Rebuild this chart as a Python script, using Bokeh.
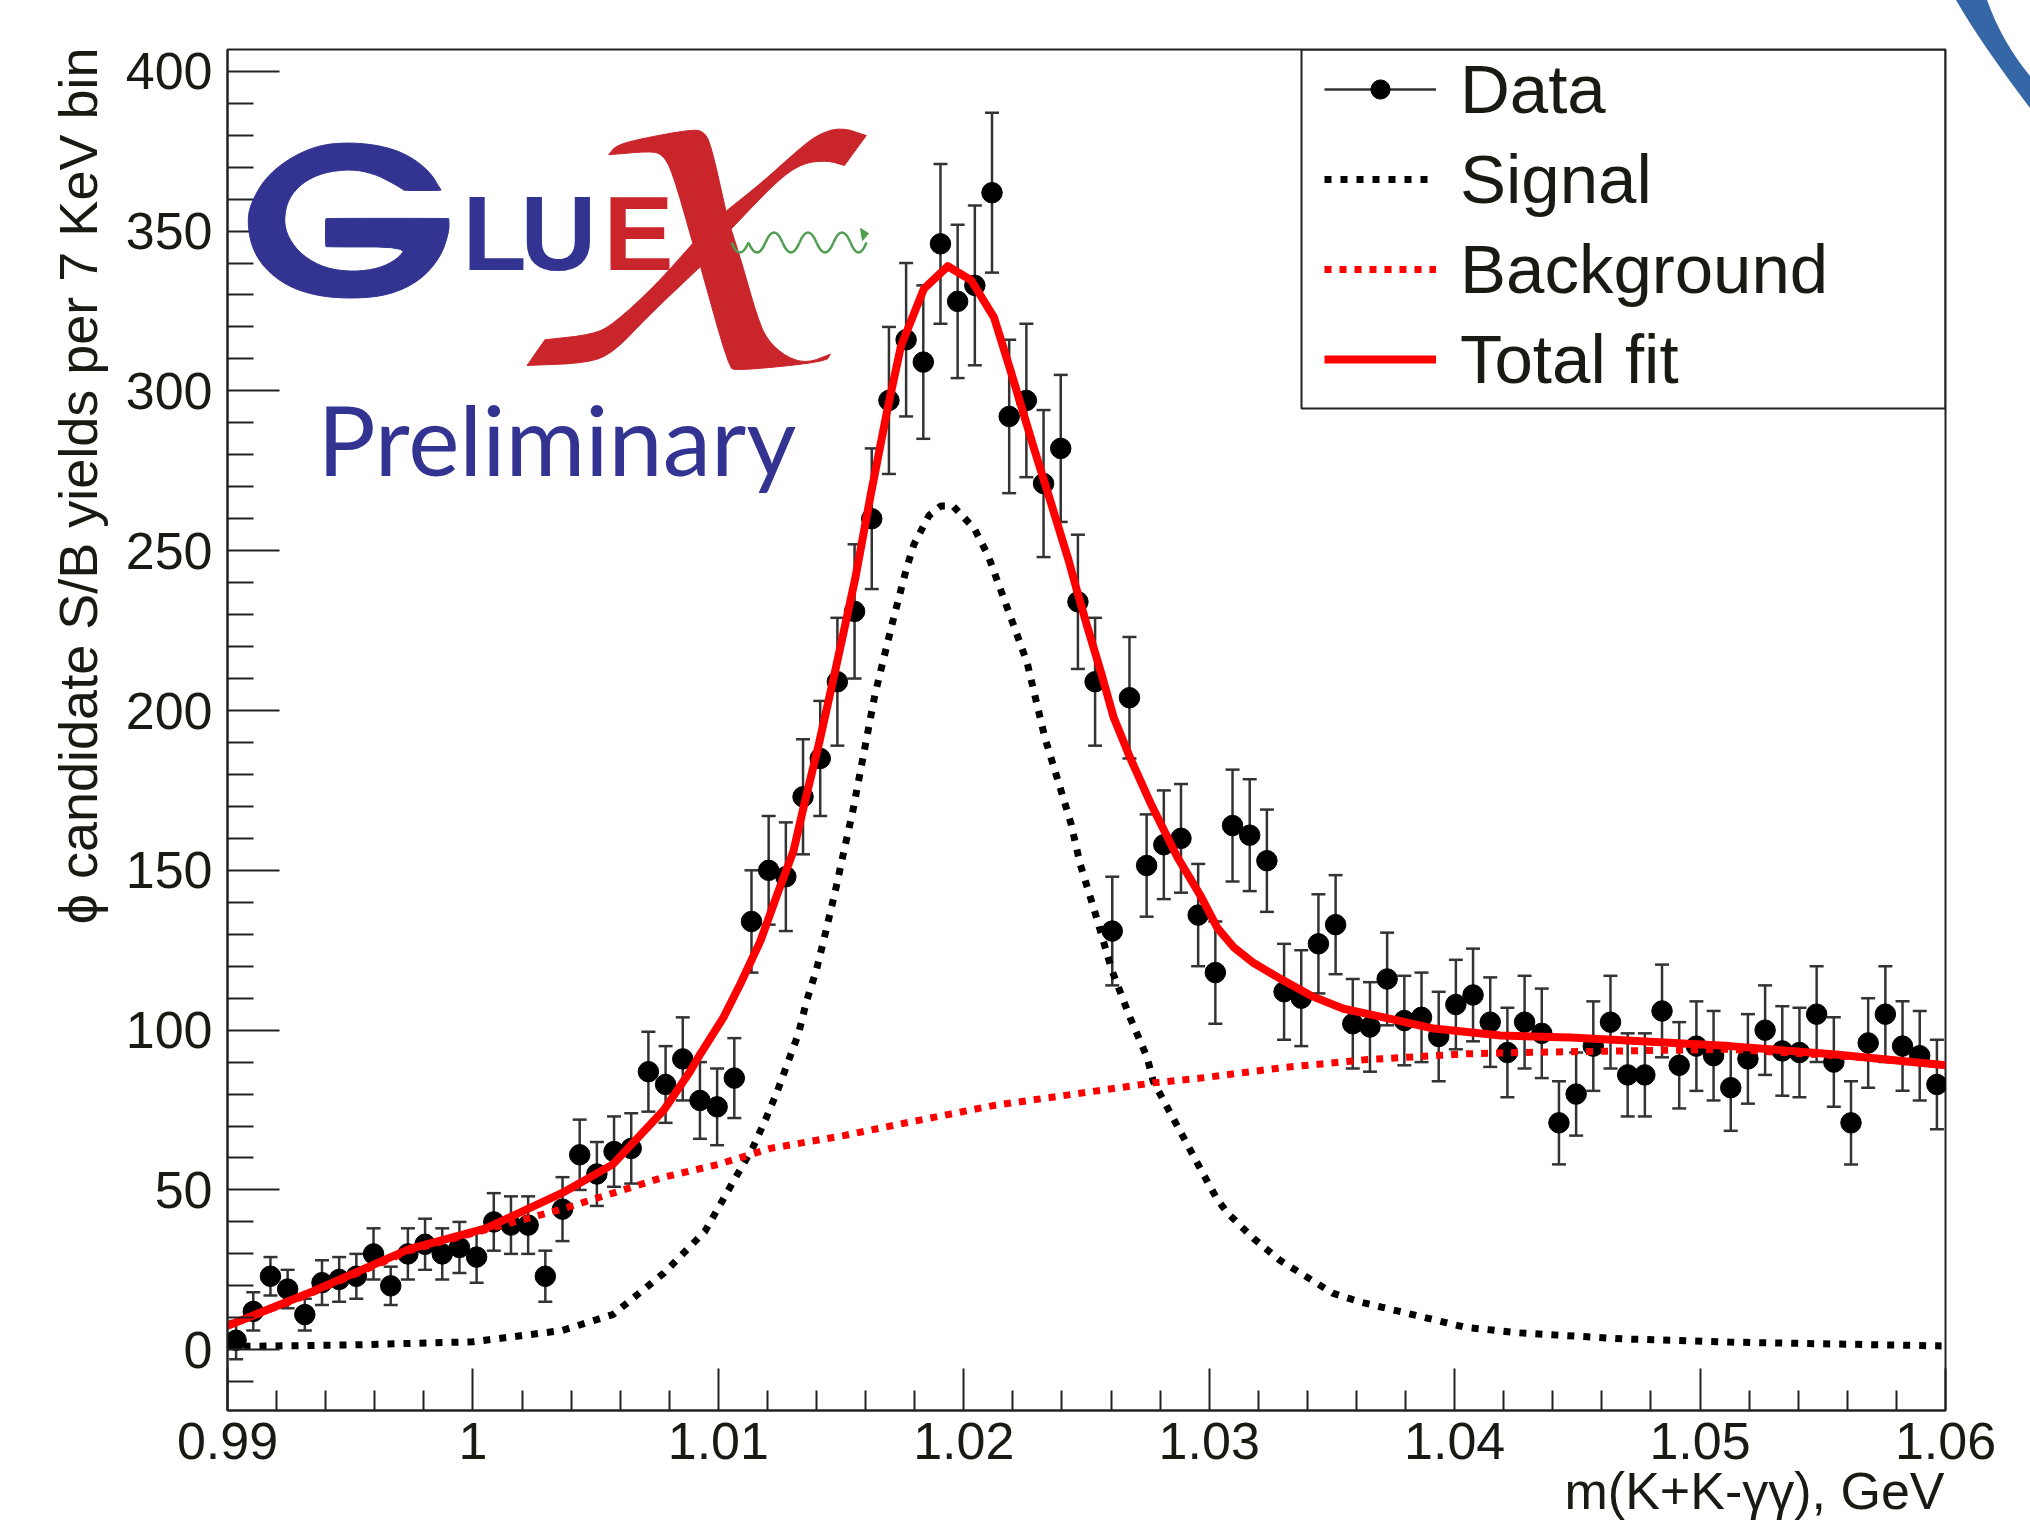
from bokeh.plotting import figure
from bokeh.embed import file_html
from bokeh.resources import INLINE
from bokeh.core.properties import value
from bokeh.layouts import column
from bokeh.models import Range1d, FixedTicker, Legend, LegendItem, Label, Div

# ---------- data ----------
mass = [0.99035,0.99105,0.99175,0.99245,0.99315,0.99385,0.99455,0.99525,0.99595,0.99665,
        0.99735,0.99805,0.99875,0.99945,1.00015,1.00085,1.00155,1.00225,1.00295,1.00365,
        1.00435,1.00505,1.00575,1.00645,1.00715,1.00785,1.00855,1.00925,1.00995,1.01065,
        1.01135,1.01205,1.01275,1.01345,1.01415,1.01485,1.01555,1.01625,1.01695,1.01765,
        1.01835,1.01905,1.01975,1.02045,1.02115,1.02185,1.02255,1.02325,1.02395,1.02465,
        1.02535,1.02605,1.02675,1.02745,1.02815,1.02885,1.02955,1.03025,1.03095,1.03165,
        1.03235,1.03305,1.03375,1.03445,1.03515,1.03585,1.03655,1.03725,1.03795,1.03865,
        1.03935,1.04005,1.04075,1.04145,1.04215,1.04285,1.04355,1.04425,1.04495,1.04565,
        1.04635,1.04705,1.04775,1.04845,1.04915,1.04985,1.05055,1.05125,1.05195,1.05265,
        1.05335,1.05405,1.05475,1.05545,1.05615,1.05685,1.05755,1.05825,1.05895,1.05965]
yields = [3,12,23,19,11,21,22,23,30,20,30,33,30,32,29,40,39,39,23,44,
          61,55,62,63,87,83,91,78,76,85,134,150,148,173,185,209,231,260,297,316,
          309,346,328,333,362,292,297,271,282,234,209,131,204,151.5,158,160,136,118,164,161,
          153,112,110,127,133,102,101,116,103,104,98,108,111,102.5,93,102.5,99,71,80,95,
          102.5,86,86,106,89,95,92,82,91,100,93.5,93,105,90,71,96,105,95,92,83]
errors = [6,6,6,6,5,7,7,7,8,6,8,8,8,8,8,9,9,9,8,10,
          11,10,11,11,12.5,12,13,12,12,12.5,16,17,17,18,18,20,21,22,23,24,
          24,25,24,25,25,24,24,23,23,21,20,17,19,16,17,17,16,16,17.5,17.5,
          16,15,15,15.5,15.5,14,14,14.5,14,14,14,14,14.5,14,14,14.5,14,13,13,14,
          14.5,13,13,14.5,13.5,14,14,13.5,14,14,14,14,15,14,13,14,15,14,14,14]

total_x = [0.99,0.99324,0.9974,1.00053,1.00362,1.0057,1.00778,1.00884,1.00927,1.01021,1.0109,1.01172,1.01241,
           1.01306,1.01348,1.01411,1.01475,1.01557,1.01622,1.01691,1.01744,1.01838,1.01935,1.0203,1.02123,
           1.02192,1.02286,1.02355,1.02427,1.02463,1.02504,1.02557,1.0261,1.02679,1.02761,1.02871,1.02965,
           1.03033,1.03099,1.03181,1.03303,1.03413,1.03547,1.03711,1.03915,1.04187,1.04473,1.0512,1.05553,1.06]
total_y = [7.5,17.5,31.5,38,49,58,75,87,92.6,104,114.5,128,142.7,156,170,190,212,241,268,295,314,332,339,334.6,323,
           306,282,265,247,237,226,212.5,198,185,171,154,142,132,126,121,115.5,110.8,106.7,104,100.5,98.3,97.7,95,92.4,89]
signal_x = [0.99,0.995,1.0,1.00362,1.0057,1.00778,1.00945,1.01071,1.01139,1.01192,1.01241,1.01286,1.01327,1.01359,
            1.014,1.01432,1.01477,1.01506,1.01549,1.01601,1.01638,1.01711,1.01765,1.01797,1.01858,1.01907,1.01956,
            1.02042,1.02099,1.02192,1.02258,1.0233,1.02384,1.02437,1.02474,1.0253,1.02604,1.02677,1.02747,1.02772,
            1.0287,1.02965,1.0303,1.03073,1.03181,1.03288,1.03397,1.03503,1.03613,1.03829,1.04045,1.04261,1.04689,
            1.05119,1.05984]
signal_y = [1,1.5,2.5,6,11,24,37,54,63,72,81,90.5,99,109,119,129,143.7,154,169,190,205,228,244,252,261,264,264,
            257,248.5,229,215,191.6,178,164.6,152,138,118.6,104,91.5,84,70,56.5,47.4,42.9,34.8,28,22.8,17.7,15,11,7,
            5.3,3.4,2.4,1.2]
bkg_x = [0.99,0.9932,0.9974,1.0005,1.00362,1.00778,1.01,1.01212,1.0151,1.01811,1.0212,1.02772,1.02965,1.03303,
         1.03645,1.04052,1.04262,1.0512,1.0562,1.06]
bkg_y = [7.5,17,31,37.5,44,54,58,63,67,71.7,76.4,83.5,85,88.3,90.8,92.6,93,94,91.7,89]

x_ticks = [0.99,1.0,1.01,1.02,1.03,1.04,1.05,1.06]
x_tick_labels = ["0.99","1","1.01","1.02","1.03","1.04","1.05","1.06"]
x_minor = [0.992,0.994,0.996,0.998,1.002,1.004,1.006,1.008,1.012,1.014,1.016,1.018,1.022,1.024,1.026,1.028,
           1.032,1.034,1.036,1.038,1.042,1.044,1.046,1.048,1.052,1.054,1.056,1.058]
y_ticks = [0,50,100,150,200,250,300,350,400]
y_minor = [-10,10,20,30,40,60,70,80,90,110,120,130,140,160,170,180,190,210,220,230,240,260,270,280,290,
           310,320,330,340,360,370,380,390]
x_title = "m(K+K-\u03b3\u03b3), GeV"
y_title = "\u03d5 candidate S/B yields per 7 KeV bin"

# ---------- page layout ----------
FX0, FX1, FY0, FY1 = 227, 1945, 49, 1410
XMIN, XMAX, YMIN, YMAX = 0.99, 1.06, -19.0, 406.8
def X(px): return XMIN + (px - FX0) * (XMAX - XMIN) / (FX1 - FX0)
def Y(py): return YMAX - (py - FY0) * (YMAX - YMIN) / (FY1 - FY0)

INK = "#1a1a14"
p = figure(width=2030, height=1521, output_backend="svg", toolbar_location=None,
           x_range=Range1d(XMIN, XMAX), y_range=Range1d(YMIN, YMAX),
           min_border_left=FX0, min_border_right=2030-FX1, min_border_top=FY0, min_border_bottom=1521-FY1)
p.grid.visible = False
p.outline_line_color = "#222222"
p.outline_line_width = 2
p.background_fill_color = "white"
p.border_fill_color = "white"

p.xaxis.ticker = FixedTicker(ticks=x_ticks, minor_ticks=x_minor)
p.yaxis.ticker = FixedTicker(ticks=y_ticks, minor_ticks=y_minor)
p.xaxis.major_label_overrides = dict(zip(x_ticks, x_tick_labels))
for ax in (p.xaxis[0], p.yaxis[0]):
    ax.axis_line_color = "#222222"
    ax.axis_line_width = 2
    ax.major_tick_line_color = "#222222"
    ax.minor_tick_line_color = "#222222"
    ax.major_tick_line_width = 2
    ax.minor_tick_line_width = 2
    ax.major_tick_out = 0
    ax.minor_tick_out = 0
    ax.major_label_text_font = "Liberation Sans"
    ax.major_label_text_font_size = "52px"
    ax.major_label_text_color = INK
p.xaxis.major_tick_in = 42
p.xaxis.minor_tick_in = 20
p.yaxis.major_tick_in = 52
p.yaxis.minor_tick_in = 26
p.xaxis.major_label_standoff = 12
p.yaxis.major_label_standoff = 15
p.yaxis.major_label_orientation = "horizontal"

p.add_layout(Label(x=X(1944), y=Y(1490), text=x_title, text_align="right", text_baseline="alphabetic",
                   text_font="Liberation Sans", text_font_size="52px", text_color=INK), "below")
p.add_layout(Label(x=X(77), y=Y(47), text=y_title, angle=90, angle_units="deg",
                   text_align="right", text_baseline="alphabetic",
                   text_font="Liberation Sans", text_font_size="54px", text_color=INK), "left")

# ---------- data ----------
lo = [v - e for v, e in zip(yields, errors)]
hi = [v + e for v, e in zip(yields, errors)]
bars = p.segment(mass, lo, mass, hi, line_color="#333333", line_width=2.5)
p.scatter(mass, lo, marker="dash", size=14, line_color="#333333", line_width=2.5)
p.scatter(mass, hi, marker="dash", size=14, line_color="#333333", line_width=2.5)
pts = p.scatter(mass, yields, marker="circle", size=20.5, color="black")
sig = p.line(signal_x, signal_y, line_color="black", line_width=7, line_dash="7 9")
bkg = p.line(bkg_x, bkg_y, line_color="#ff0000", line_width=7, line_dash="7 8")
tot = p.line(total_x, total_y, line_color="#ff0000", line_width=8, line_join="round")

# ---------- legend box and legend ----------
p.quad(left=[X(1301)], right=[XMAX], bottom=[Y(408)], top=[YMAX], fill_alpha=0, line_color="#222222", line_width=2)
legend = Legend(items=[LegendItem(label="Data", renderers=[bars, pts]),
                       LegendItem(label="Signal", renderers=[sig]),
                       LegendItem(label="Background", renderers=[bkg]),
                       LegendItem(label="Total fit", renderers=[tot])],
                location=(1324-FX0, FY1-50-360+6), orientation="vertical",
                padding=0, margin=0, spacing=0, glyph_width=112, glyph_height=48,
                label_height=90, label_width=457, label_standoff=24,
                label_text_font="Liberation Sans", label_text_font_size="69px", label_text_color=INK,
                border_line_alpha=0, background_fill_alpha=0)
p.add_layout(legend, "center")

# ---------- GlueX logo ----------
NAVY, RED, GREEN = "#333391", "#c9252b", "#4f9d4f"
def logo_text(s, px, py, size, color, font, style="bold"):
    p.text([X(px)], [Y(py - 0.36 * size)], text=[s], text_font=value(font), text_font_size=f"{size}px",
           text_font_style=style, text_color=color, text_align="left", text_baseline="alphabetic", level="annotation")
logo_text("L", 462, 271, 105, NAVY, "Liberation Sans")
logo_text("U", 520, 271, 105, NAVY, "Liberation Sans")
logo_text("E", 603, 271, 105, RED, "Liberation Sans")
logo_text("Preliminary", 317, 473, 97, NAVY, "Lato", style="normal")

def smooth(points, rounds=2):
    pts_ = points
    for _ in range(rounds):
        out = []
        for i, (a, b) in enumerate(pts_):
            c, d = pts_[(i + 1) % len(pts_)]
            out += [(0.75*a + 0.25*c, 0.75*b + 0.25*d), (0.25*a + 0.75*c, 0.25*b + 0.75*d)]
        pts_ = out
    return pts_
def shape(outline, fill):
    o = smooth(outline)
    p.patch([X(a/1.96+200) for a, b in o], [Y(b/2.8) for a, b in o],
            fill_color=fill, line_color=fill, level="annotation")
g_outline = [(472,530),(470,528),(450,480),(410,435),(360,408),(295,397),(230,405),(170,445),(125,500),(98,570),(92,620),
             (100,690),(125,750),(170,800),(230,828),(300,835),(370,825),(430,785),(470,720),(487,650),(487,612),(486,610),
             (247,610),(245,612),(245,688),(247,690),(405,690),(385,725),(350,750),(300,760),(245,750),(200,715),(172,665),(163,615),
             (172,555),(200,510),(240,482),(295,472),(340,485),(375,510),(398,530),(400,532),(470,532)]
shape(g_outline, NAVY)
x_outline = [(800,432),(800,432),(815,405),(870,385),(960,362),(985,365),(1000,400),(1030,590),(1030,590),(1100,510),(1170,420),
             (1210,375),(1255,355),(1305,378),(1305,378),(1262,462),(1262,462),(1230,448),(1180,455),(1130,505),(1040,640),(1040,640),(1060,730),
             (1090,880),(1110,950),(1150,1000),(1190,1015),(1235,990),(1235,990),(1225,1012),(1050,1037),(1035,1025),
             (980,745),(980,745),(880,880),(810,985),(760,1015),(640,1022),(640,1022),(675,950),(675,950),(770,935),(810,905),(890,800),
             (965,680),(965,680),(925,480),(905,430),(880,422)]
shape(x_outline, RED)

wave_x = [731,748,765,782,799,816,833,850,866]
wave_c = [252,252,232,252,232,252,232,252,232]
p.quadratic([X(a) for a in wave_x[:-1]], [Y(242)]*8, [X(a) for a in wave_x[1:]], [Y(242)]*8,
            [X((a+b)/2) for a, b in zip(wave_x[:-1], wave_x[1:])],
            [Y(242+(c-242)*2) for c in wave_c[:-1]],
            line_color=GREEN, line_width=2.5, level="annotation")
p.patch([X(860), X(868), X(862)], [Y(228), Y(233), Y(240)], fill_color=GREEN, line_color=GREEN, level="annotation")

# ---------- blue arc in the page corner (outside the plot frame) ----------
arc = Div(width=0, height=0, margin=0,
          text='<svg width="90" height="115" style="position:absolute;left:0;top:0;overflow:visible">'
               '<path d="M6 0 Q30 42 80 108 L80 76 Q52 42 37 0 Z" fill="#3566a5"/></svg>',
          styles={"position": "absolute", "left": "1950px", "top": "0px"})
page = column(p, arc, spacing=0, margin=0)

open("out.html", "w").write(file_html(page, INLINE))
